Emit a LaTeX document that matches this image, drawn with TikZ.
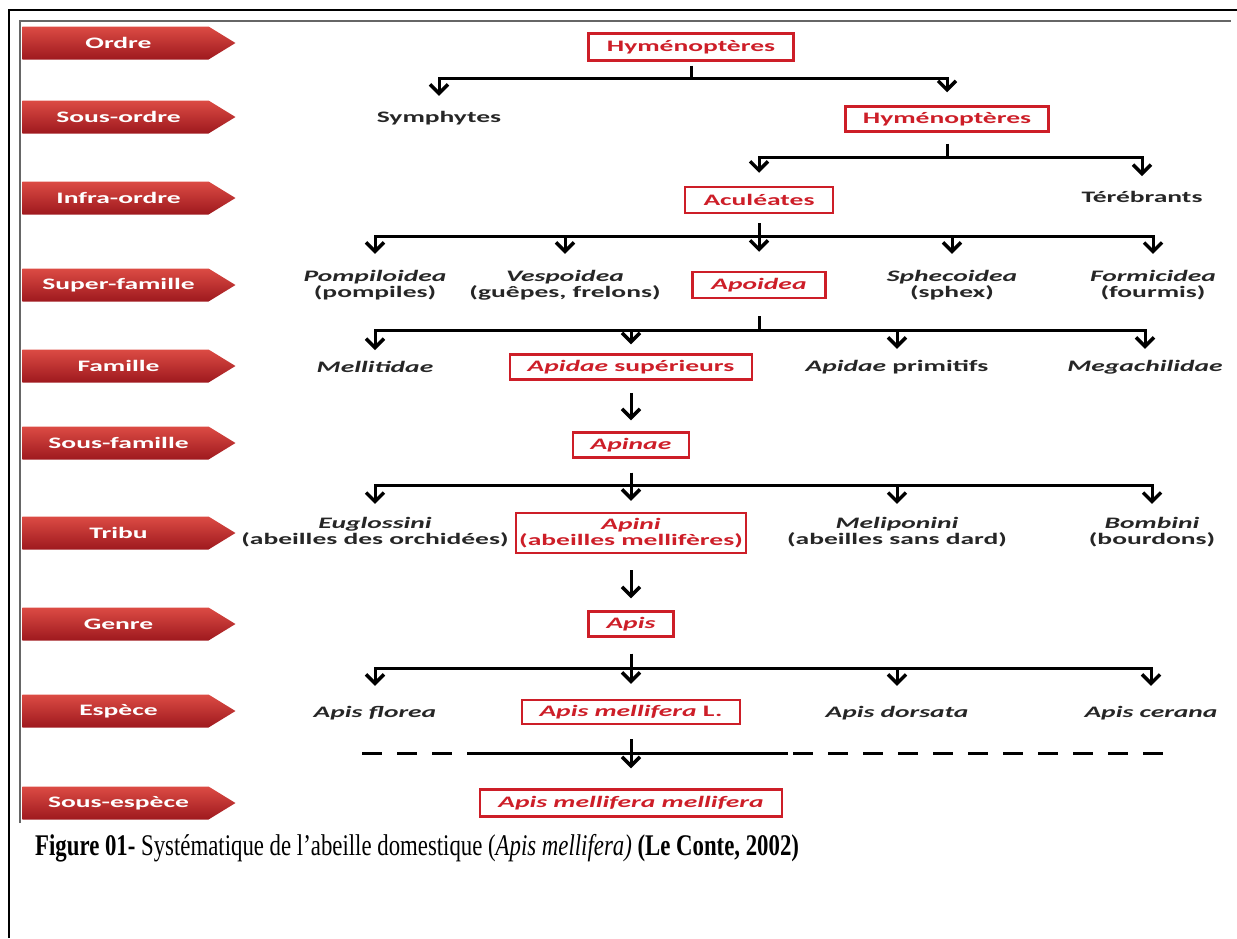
\documentclass[tikz,border=0pt]{standalone}
\usepackage{fontspec}
\setmainfont{Liberation Serif}
\newfontfamily\ranksf[FakeStretch=1.72]{Carlito}
\newfontfamily\capfont[FakeStretch=0.76]{Liberation Serif}
\usetikzlibrary{positioning,calc}
\usetikzlibrary{arrows.meta,shapes.symbols}
\definecolor{RankTop}{RGB}{220,75,68}
\definecolor{RankMid}{RGB}{198,45,45}
\definecolor{RankBot}{RGB}{158,25,30}
\definecolor{TaxRed}{RGB}{205,30,40}
\definecolor{InkGray}{RGB}{38,38,38}
\tikzset{
  rank/.style={signal,signal to=east,signal pointer angle=63,minimum width=213pt,minimum height=33pt,
    inner sep=0pt,top color=RankTop,middle color=RankMid,bottom color=RankBot,draw=none},
  ranktxt/.style={text=white,font=\ranksf\bfseries\fontsize{16}{18}\selectfont,xshift=3pt},
  taxon/.style={font=\ranksf\bfseries\fontsize{16}{16}\selectfont,text=InkGray,align=center,inner sep=2pt},
  pick/.style={taxon,text=TaxRed,draw=TaxRed,line width=2.5pt,inner sep=0pt},
  link/.style={draw=black,line width=3pt,-{Straight Barb[length=9pt,width=18pt,line width=3.5pt]},shorten >=13pt},
  dashbar/.style={line width=3pt,dash pattern=on 20pt off 15pt},
}

\begin{document}
\begin{tikzpicture}[x=1pt,y=-1pt]
\useasboundingbox (0,0) rectangle (1237,938);
\draw[line width=2pt] (9,938)--(9,10)--(1237,10);
\draw[black!60,line width=2pt] (20,823)--(20,21)--(1231,21);
\foreach \n/\y/\t in {r1/43/Ordre,r2/117/Sous-ordre,r3/198/Infra-ordre,r4/285/Super-famille,r5/366/Famille,
  r6/443/Sous-famille,r7/533/Tribu,r8/624/Genre,r9/711/Espèce,r10/803/Sous-espèce}
  \node[rank,label={[ranktxt]center:\t}] (\n) at (115.5,\y) {};
\node[pick,minimum width=205pt,minimum height=27pt] (hym) at (691,47) {Hyménoptères};
\node[taxon] (sym) at (439,118) {Symphytes};
\node[pick,minimum width=203pt,minimum height=25pt] (hymb) at (947,119) {Hyménoptères};
\node[pick,minimum width=148pt,minimum height=26pt] (acu) at (759,200) {Aculéates};
\node[taxon] (tere) at (1142,197) {Térébrants};
\node[taxon] (pomp) at (375,285) {\textit{Pompiloidea}\\(pompiles)};
\node[taxon] (vesp) at (565,285) {\textit{Vespoidea}\\(guêpes, frelons)};
\node[pick,minimum width=133pt,minimum height=26pt] (apo) at (759,285) {\textit{Apoidea}};
\node[taxon] (sphe) at (952,285) {\textit{Sphecoidea}\\(sphex)};
\node[taxon] (form) at (1153,285) {\textit{Formicidea}\\(fourmis)};
\node[taxon] (mell) at (375,367) {\textit{Mellitidae}};
\node[pick,minimum width=242pt,minimum height=25pt] (apsup) at (631,367) {\textit{Apidae} supérieurs};
\node[taxon] (apprim) at (897,367) {\textit{Apidae} primitifs};
\node[taxon] (mega) at (1145,367) {\textit{Megachilidae}};
\node[pick,minimum width=116pt,minimum height=25pt] (apinae) at (631,445) {\textit{Apinae}};
\node[taxon] (eugl) at (375,532) {\textit{Euglossini}\\(abeilles des orchidées)};
\node[pick,minimum width=230pt,minimum height=40pt] (apini) at (631,533) {\textit{Apini}\\(abeilles mellifères)};
\node[taxon] (meli) at (897,532) {\textit{Meliponini}\\(abeilles sans dard)};
\node[taxon] (bomb) at (1152,532) {\textit{Bombini}\\(bourdons)};
\node[pick,minimum width=85pt,minimum height=25pt] (apis) at (631,624) {\textit{Apis}};
\node[taxon] (flor) at (375,713) {\textit{Apis florea}};
\node[pick,minimum width=218pt,minimum height=24pt] (amL) at (631,712) {\textit{Apis mellifera} L.};
\node[taxon] (dors) at (897,713) {\textit{Apis dorsata}};
\node[taxon] (cera) at (1151,713) {\textit{Apis cerana}};
\node[pick,minimum width=302pt,minimum height=27pt] (amm) at (631,803) {\textit{Apis mellifera mellifera}};
\coordinate (bar1) at (0,78);
\coordinate (bar2) at (0,157);
\coordinate (bar3) at (0,236);
\coordinate (bar4) at (0,330);
\coordinate (bar6) at (0,485);
\coordinate (bar8) at (0,668);
\foreach \c in {sym,hymb} \draw[link,shorten <=4pt] (hym.south)--(hym.south|-bar1)-|(\c.north);
\foreach \c in {acu,tere} \draw[link,shorten <=11pt] (hymb.south)--(hymb.south|-bar2)-|(\c.north);
\foreach \c/\s in {pomp/14,vesp/14,apo/19,sphe/14,form/14}
  \draw[link,shorten <=9pt,shorten >=\s pt] (acu.south)--(acu.south|-bar3)-|(\c.north);
\foreach \c in {mell,apsup,apprim,mega}
  \draw[link,shorten <=17pt,shorten >=9pt] (apo.south)--(apo.south|-bar4)-|(\c.north);
\draw[link,shorten <=12pt,shorten >=11pt] (apsup.south)--(apinae.north);
\foreach \c in {eugl,apini,meli,bomb}
  \draw[link,shorten <=14pt,shorten >=11pt] (apinae.south)--(apinae.south|-bar6)-|(\c.north);
\draw[link,shorten <=16pt,shorten >=12pt] (apini.south)--(apis.north);
\foreach \c/\s in {flor/18,amL/15,dors/18,cera/18}
  \draw[link,shorten <=16pt,shorten >=\s pt] (apis.south)--(apis.south|-bar8)-|(\c.north);
\coordinate (dashL) at (362,753);
\coordinate (solidL) at (470,753);
\coordinate (solidR) at (788,753);
\coordinate (dashR) at (1165,753);
\draw[dashbar] (dashL)--(solidL);
\draw[line width=3pt] (solidL)--(solidR);
\draw[dashbar] ([xshift=5pt]solidR)--(dashR);
\draw[link,shorten <=14pt,shorten >=20pt] (amL.south)--(amm.north);
\node[anchor=base west,inner sep=0pt,font=\capfont\fontsize{30}{34}\selectfont] (cap) at (35,855)
  {\textbf{Figure 01-} Systématique de l’abeille domestique (\textit{Apis mellifera)} \textbf{(Le Conte, 2002)}};
\end{tikzpicture}
\end{document}
